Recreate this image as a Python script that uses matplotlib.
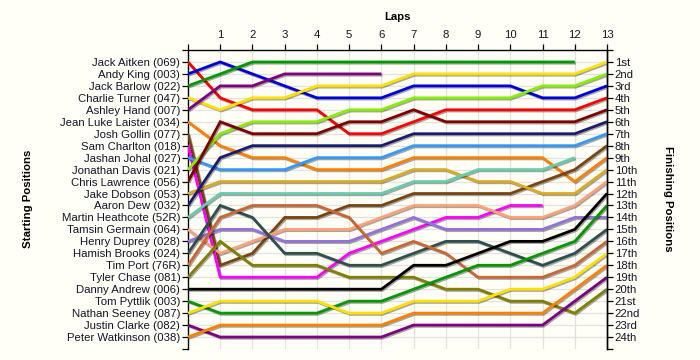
import matplotlib
matplotlib.use("Agg")
import matplotlib.pyplot as plt
import matplotlib.patheffects as pe

# ---------------- data ----------------
laps = list(range(0, 14))
lap_labels = [""] + [str(i) for i in range(1, 14)]

drivers = [
    "Jack Aitken (069)", "Andy King (003)", "Jack Barlow (022)", "Charlie Turner (047)",
    "Ashley Hand (007)", "Jean Luke Laister (034)", "Josh Gollin (077)", "Sam Charlton (018)",
    "Jashan Johal (027)", "Jonathan Davis (021)", "Chris Lawrence (056)", "Jake Dobson (053)",
    "Aaron Dew (032)", "Martin Heathcote (52R)", "Tamsin Germain (064)", "Henry Duprey (028)",
    "Hamish Brooks (024)", "Tim Port (76R)", "Tyler Chase (081)", "Danny Andrew (006)",
    "Tom Pyttlik (003)", "Nathan Seeney (087)", "Justin Clarke (082)", "Peter Watkinson (038)",
]

finish_labels = ["1st", "2nd", "3rd", "4th", "5th", "6th", "7th", "8th", "9th", "10th",
                 "11th", "12th", "13th", "14th", "15th", "16th", "17th", "18th", "19th",
                 "20th", "21st", "22nd", "23rd", "24th"]

N = None
positions = [
    [1, 4, 5, 5, 5, 7, 7, 6, 5, 5, 5, 5, 5, 4],
    [2, 1, 2, 3, 4, 4, 4, 3, 3, 3, 3, 4, 4, 3],
    [3, 2, 1, 1, 1, 1, 1, 1, 1, 1, 1, 1, 1, N],
    [4, 5, 4, 4, 3, 3, 3, 2, 2, 2, 2, 2, 2, 1],
    [5, 3, 3, 2, 2, 2, 2, N, N, N, N, N, N, N],
    [6, 8, 9, 9, 10, 10, 10, 9, 9, 9, 9, 9, 11, 9],
    [7, 18, 17, 14, 14, 13, 13, 12, 12, 12, 12, 11, 10, 8],
    [8, 19, 19, 19, 19, 17, 16, 15, 14, 14, 13, 13, N, N],
    [9, 10, 10, 10, 9, 9, 9, 8, 8, 8, 8, 8, 8, 7],
    [10, 7, 6, 6, 6, 5, 5, 4, 4, 4, 4, 3, 3, 2],
    [11, 6, 7, 7, 7, 6, 6, 5, 6, 6, 6, 6, 6, 5],
    [12, 11, 11, 11, 11, 11, 11, 10, 10, 11, 11, 12, 12, 10],
    [13, 9, 8, 8, 8, 8, 8, 7, 7, 7, 7, 7, 7, 6],
    [14, 12, 12, 12, 12, 12, 12, 11, 11, 10, 10, 10, 9, N],
    [15, 17, 16, 15, 15, 15, 14, 13, 13, 13, 14, 14, 13, 11],
    [16, 15, 15, 16, 16, 16, 15, 14, 15, 15, 15, 15, 14, 14],
    [17, 13, 14, 17, 17, 18, 18, 17, 16, 16, 17, 18, 17, 15],
    [18, 14, 13, 13, 13, 14, 17, 16, 17, 19, 19, 19, 18, 16],
    [19, 16, 18, 18, 18, 19, 19, 19, 20, 20, 21, 21, 22, 20],
    [20, 20, 20, 20, 20, 20, 20, 18, 18, 17, 16, 16, 15, 12],
    [21, 22, 22, 22, 22, 21, 21, 20, 19, 18, 18, 17, 16, 13],
    [22, 21, 21, 21, 21, 22, 22, 21, 21, 21, 20, 20, 19, 17],
    [23, 24, 24, 24, 24, 24, 24, 23, 23, 23, 23, 23, 21, 19],
    [24, 23, 23, 23, 23, 23, 23, 22, 22, 22, 22, 22, 20, 18],
]

colors = [
    "#ff0000", "#0000dd", "#009900", "#ffe000", "#800080", "#ff8000", "#7a4410", "#ff00ff",
    "#3399ff", "#88ee00", "#800000", "#dcaa20", "#1c1c6e", "#66ccaa", "#ffa07a", "#9370db",
    "#2f4f4f", "#cc6633", "#808000", "#000000", "#009900", "#ffe000", "#800080", "#ff8000",
]

# ---------------- figure ----------------
bg = "#fffff7"
txt = "#141428"
fig = plt.figure(figsize=(7.0, 3.6), dpi=100, facecolor=bg)
ax = fig.add_axes([188 / 700, 1 - 349 / 360, (607 - 188) / 700, (349 - 50) / 360])
ax.set_facecolor(bg)

font = "Liberation Sans"

for pos, col in zip(positions, colors):
    xs = [l for l, p in zip(laps, pos) if p is not None]
    ys = [p for p in pos if p is not None]
    ax.plot(xs, ys, color=col, lw=2.0, solid_joinstyle="miter", solid_capstyle="butt",
            zorder=3,
            path_effects=[pe.SimpleLineShadow(offset=(0.8, -0.9), shadow_color="#000000",
                                              alpha=0.35),
                          pe.Normal()])

ax.set_xlim(0, 13)
ax.set_ylim(25, 0)

# grid
for l in laps[1:-1]:
    ax.axvline(l, color="#e2e2e2", lw=0.9, zorder=1)
for p in range(1, 25):
    ax.axhline(p, color="#e2e2e2", lw=0.9, zorder=1)

# left ticks
ax.set_yticks(range(0, 26))
ax.set_yticklabels([""] + drivers + [""], fontsize=8.2, color=txt, family=font)
ax.tick_params(axis="y", direction="out", length=4, width=0.9, pad=1.5, colors="black",
               labelcolor=txt)

# top ticks
ax.xaxis.tick_top()
ax.set_xticks(laps)
ax.set_xticklabels(lap_labels, fontsize=8.2, family=font, color=txt)
ax.tick_params(axis="x", direction="out", length=4, width=0.9, pad=3.5, colors="black",
               labelcolor=txt)
ax.set_xlabel("Laps", fontsize=8.2, fontweight="bold", family=font, color="black", labelpad=7)
ax.xaxis.set_label_position("top")

for s in ["top", "left", "right"]:
    ax.spines[s].set_color("black")
    ax.spines[s].set_linewidth(1.0)
ax.spines["bottom"].set_visible(False)

# right axis
ax2 = ax.twinx()
ax2.set_ylim(25, 0)
ax2.set_yticks(range(0, 26))
ax2.set_yticklabels([""] + finish_labels + [""], fontsize=8.2, family=font, color=txt)
ax2.tick_params(axis="y", direction="out", length=4, width=0.9, pad=1.5, colors="black",
                labelcolor=txt)
for s in ["top", "left", "bottom"]:
    ax2.spines[s].set_visible(False)
ax2.spines["right"].set_linewidth(1.0)

fig.text(28 / 700, 1 - 199 / 360, "Starting Positions", rotation=90, ha="center", va="center",
         fontsize=8.2, fontweight="bold", family=font, color="black")
fig.text(668 / 700, 1 - 199 / 360, "Finishing Positions", rotation=270, ha="center",
         va="center", fontsize=8.2, fontweight="bold", family=font, color="black")

fig.savefig("out.png", dpi=100, facecolor=bg)
